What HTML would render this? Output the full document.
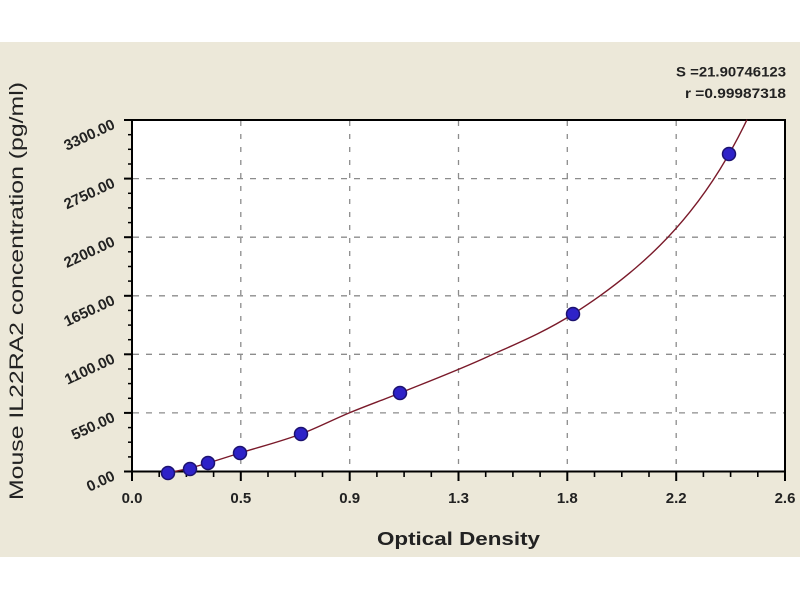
<!DOCTYPE html>
<html>
<head>
<meta charset="utf-8">
<style>
html,body{margin:0;padding:0;background:#fff;}
svg{display:block;}
text{font-family:"Liberation Sans",Arial,sans-serif;}
</style>
</head>
<body>
<svg width="800" height="600" viewBox="0 0 800 600" xmlns="http://www.w3.org/2000/svg">
  <rect x="0" y="0" width="800" height="600" fill="#ffffff"/>
  <rect x="0" y="42" width="800" height="515" fill="#ece8d9"/>
  <!-- plot area -->
  <rect x="132" y="120" width="653" height="351.5" fill="#ffffff"/>

  <!-- gridlines horizontal -->
  <g stroke="#8c8c8c" stroke-width="1.3" stroke-dasharray="6 7" fill="none">
    <line x1="133" y1="412.9" x2="784" y2="412.9"/>
    <line x1="133" y1="354.3" x2="784" y2="354.3"/>
    <line x1="133" y1="295.8" x2="784" y2="295.8"/>
    <line x1="133" y1="237.2" x2="784" y2="237.2"/>
    <line x1="133" y1="178.6" x2="784" y2="178.6"/>
  </g>
  <!-- gridlines vertical -->
  <g stroke="#8c8c8c" stroke-width="1.3" stroke-dasharray="5 8" fill="none">
    <line x1="240.8" y1="121" x2="240.8" y2="471"/>
    <line x1="349.7" y1="121" x2="349.7" y2="471"/>
    <line x1="458.5" y1="121" x2="458.5" y2="471"/>
    <line x1="567.3" y1="121" x2="567.3" y2="471"/>
    <line x1="676.2" y1="121" x2="676.2" y2="471"/>
  </g>

  <!-- frame -->
  <rect x="132" y="120" width="653" height="351.5" fill="none" stroke="#000" stroke-width="2"/>

  <!-- y ticks -->
  <g stroke="#000" stroke-width="2">
    <line x1="124" y1="471.5" x2="132" y2="471.5"/>
    <line x1="124" y1="412.9" x2="132" y2="412.9"/>
    <line x1="124" y1="354.3" x2="132" y2="354.3"/>
    <line x1="124" y1="295.8" x2="132" y2="295.8"/>
    <line x1="124" y1="237.2" x2="132" y2="237.2"/>
    <line x1="124" y1="178.6" x2="132" y2="178.6"/>
    <line x1="124" y1="120" x2="132" y2="120"/>
  </g>
  <g stroke="#000" stroke-width="1.5">
    <line x1="128" y1="456.9" x2="132" y2="456.9"/>
    <line x1="128" y1="442.2" x2="132" y2="442.2"/>
    <line x1="128" y1="427.6" x2="132" y2="427.6"/>
    <line x1="128" y1="398.3" x2="132" y2="398.3"/>
    <line x1="128" y1="383.6" x2="132" y2="383.6"/>
    <line x1="128" y1="369.0" x2="132" y2="369.0"/>
    <line x1="128" y1="339.7" x2="132" y2="339.7"/>
    <line x1="128" y1="325.1" x2="132" y2="325.1"/>
    <line x1="128" y1="310.4" x2="132" y2="310.4"/>
    <line x1="128" y1="281.1" x2="132" y2="281.1"/>
    <line x1="128" y1="266.5" x2="132" y2="266.5"/>
    <line x1="128" y1="251.8" x2="132" y2="251.8"/>
    <line x1="128" y1="222.6" x2="132" y2="222.6"/>
    <line x1="128" y1="207.9" x2="132" y2="207.9"/>
    <line x1="128" y1="193.3" x2="132" y2="193.3"/>
    <line x1="128" y1="164.0" x2="132" y2="164.0"/>
    <line x1="128" y1="149.3" x2="132" y2="149.3"/>
    <line x1="128" y1="134.7" x2="132" y2="134.7"/>
  </g>

  <!-- x ticks -->
  <g stroke="#000" stroke-width="2">
    <line x1="132" y1="471.5" x2="132" y2="481"/>
    <line x1="240.8" y1="471.5" x2="240.8" y2="481"/>
    <line x1="349.7" y1="471.5" x2="349.7" y2="481"/>
    <line x1="458.5" y1="471.5" x2="458.5" y2="481"/>
    <line x1="567.3" y1="471.5" x2="567.3" y2="481"/>
    <line x1="676.2" y1="471.5" x2="676.2" y2="481"/>
    <line x1="785" y1="471.5" x2="785" y2="481"/>
  </g>
  <g stroke="#000" stroke-width="1.6">
    <line x1="159.2" y1="471.5" x2="159.2" y2="477"/>
    <line x1="186.4" y1="471.5" x2="186.4" y2="477"/>
    <line x1="213.6" y1="471.5" x2="213.6" y2="477"/>
    <line x1="268.0" y1="471.5" x2="268.0" y2="477"/>
    <line x1="295.3" y1="471.5" x2="295.3" y2="477"/>
    <line x1="322.5" y1="471.5" x2="322.5" y2="477"/>
    <line x1="376.9" y1="471.5" x2="376.9" y2="477"/>
    <line x1="404.1" y1="471.5" x2="404.1" y2="477"/>
    <line x1="431.3" y1="471.5" x2="431.3" y2="477"/>
    <line x1="485.7" y1="471.5" x2="485.7" y2="477"/>
    <line x1="512.9" y1="471.5" x2="512.9" y2="477"/>
    <line x1="540.1" y1="471.5" x2="540.1" y2="477"/>
    <line x1="594.5" y1="471.5" x2="594.5" y2="477"/>
    <line x1="621.8" y1="471.5" x2="621.8" y2="477"/>
    <line x1="649.0" y1="471.5" x2="649.0" y2="477"/>
    <line x1="703.4" y1="471.5" x2="703.4" y2="477"/>
    <line x1="730.6" y1="471.5" x2="730.6" y2="477"/>
    <line x1="757.8" y1="471.5" x2="757.8" y2="477"/>
  </g>

  <!-- x tick labels -->
  <g font-size="15" font-weight="bold" fill="#222" text-anchor="middle">
    <text x="132" y="503">0.0</text>
    <text x="240.8" y="503">0.5</text>
    <text x="349.7" y="503">0.9</text>
    <text x="458.5" y="503">1.3</text>
    <text x="567.3" y="503">1.8</text>
    <text x="676.2" y="503">2.2</text>
    <text x="785" y="503">2.6</text>
  </g>

  <!-- y tick labels (rotated) -->
  <g font-size="15" font-weight="bold" fill="#222" text-anchor="end">
    <text x="116" y="479.5" transform="rotate(-25 116 479.5)">0.00</text>
    <text x="116" y="420.9" transform="rotate(-25 116 420.9)">550.00</text>
    <text x="116" y="362.3" transform="rotate(-25 116 362.3)">1100.00</text>
    <text x="116" y="303.8" transform="rotate(-25 116 303.8)">1650.00</text>
    <text x="116" y="245.2" transform="rotate(-25 116 245.2)">2200.00</text>
    <text x="116" y="186.6" transform="rotate(-25 116 186.6)">2750.00</text>
    <text x="116" y="128" transform="rotate(-25 116 128)">3300.00</text>
  </g>

  <!-- axis titles -->
  <text x="458.5" y="545" font-size="18" font-weight="bold" fill="#222" text-anchor="middle" textLength="163" lengthAdjust="spacingAndGlyphs">Optical Density</text>
  <text x="0" y="0" font-size="19" fill="#222" text-anchor="middle" textLength="418" lengthAdjust="spacingAndGlyphs" transform="translate(23 291) rotate(-90)">Mouse IL22RA2 concentration (pg/ml)</text>

  <!-- stats -->
  <text x="786" y="76.5" font-size="14" font-weight="bold" fill="#222" text-anchor="end" textLength="110" lengthAdjust="spacingAndGlyphs">S =21.90746123</text>
  <text x="786" y="98" font-size="14" font-weight="bold" fill="#222" text-anchor="end" textLength="101" lengthAdjust="spacingAndGlyphs">r =0.99987318</text>

  <!-- fitted curve -->
  <path fill="none" stroke="#7a1a2a" stroke-width="1.4" d="M168,473
    C175.3,471.3 182.7,469.85 190,468
    C196,466.5 202,464.8 208,463
    C218.7,459.9 229.3,456.3 240,453
    C260.3,446.7 280.7,441.6 301,434
    C317,428 333,419.6 349,413
    C366,405.9 383,399.9 400,393
    C429,381.3 458,370.3 487,357
    C515.7,343.9 544.3,332.3 573,314
    C582,308.25 591,302.24 600,295.8
    C610,288.64 620,281.01 630,272.7
    C640,264.39 650,255.42 660,245.4
    C670,235.38 680,224.31 690,211.8
    C700,199.29 710,185.34 720,169.2
    C729,154.67 738,138.41 747,119.7"/>

  <!-- data points -->
  <g fill="#2e22c8" stroke="#1c1270" stroke-width="1.5">
    <circle cx="168" cy="473" r="6.5"/>
    <circle cx="190" cy="469" r="6.5"/>
    <circle cx="208" cy="463" r="6.5"/>
    <circle cx="240" cy="453" r="6.5"/>
    <circle cx="301" cy="434" r="6.5"/>
    <circle cx="400" cy="393" r="6.5"/>
    <circle cx="573" cy="314" r="6.5"/>
    <circle cx="729" cy="154" r="6.5"/>
  </g>
</svg>
</body>
</html>
